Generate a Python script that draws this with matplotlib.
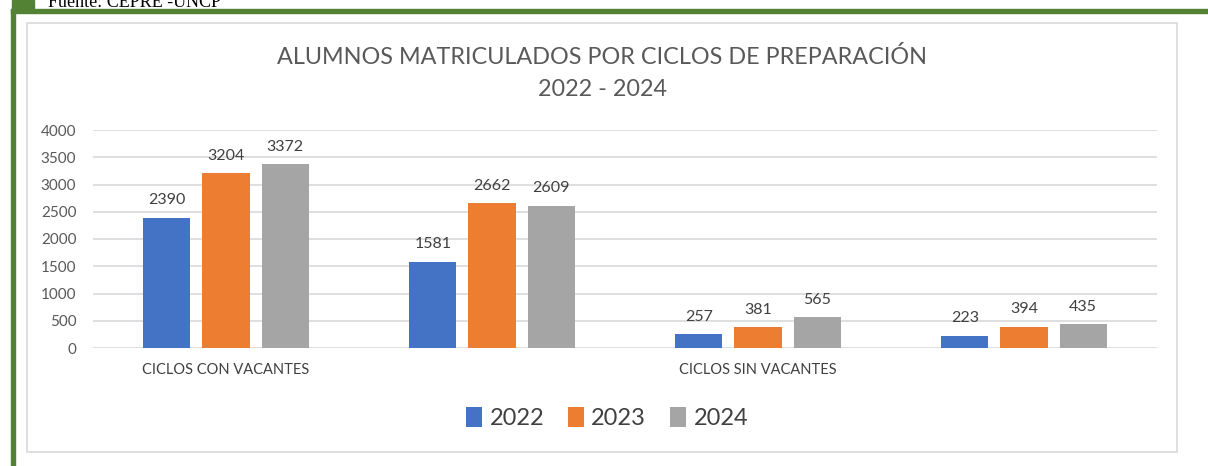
import matplotlib
matplotlib.use("Agg")
import matplotlib.pyplot as plt
from matplotlib.patches import Rectangle
import numpy as np

plt.rcParams['font.family'] = ['Lato', 'DejaVu Sans']

# Data
categories = ["CICLOS CON VACANTES", "", "CICLOS SIN VACANTES", ""]
series_names = ["2022", "2023", "2024"]
values_2022 = [2390, 1581, 257, 223]
values_2023 = [3204, 2662, 381, 394]
values_2024 = [3372, 2609, 565, 435]
yticks = [0, 500, 1000, 1500, 2000, 2500, 3000, 3500, 4000]
title_lines = ["ALUMNOS MATRICULADOS POR CICLOS DE PREPARACIÓN", "2022 - 2024"]
source_text = "Fuente: CEPRE -UNCP"

colors = ["#4472C4", "#ED7D31", "#A5A5A5"]
W, H = 1208, 466
fig = plt.figure(figsize=(W / 100, H / 100), dpi=100)
fig.patch.set_facecolor("white")

def px(x, y, w, h):
    # convert top-left pixel box to figure coords
    return (x / W, 1 - (y + h) / H, w / W, h / H)

def add_rect(x, y, w, h, **kw):
    b = px(x, y, w, h)
    fig.patches.append(Rectangle(b[:2], b[2], b[3], transform=fig.transFigure, zorder=-5, **kw))

green = "#548235"
add_rect(11, 9, W - 11, 4, color=green)
add_rect(11, 9, 4, H - 9, color=green)
add_rect(12, 0, 22, 10, color=green)
add_rect(27, 23, 1150, 429, facecolor="white", edgecolor="#D9D9D9", linewidth=1.2)

fig.text(48 / W, 1 - 7 / H, source_text, fontsize=13, family="Liberation Serif",
         color="black", va="baseline", ha="left")

# axes
ax = fig.add_axes([93 / W, 118 / H, (1157 - 93) / W, (348 - 130) / H])
ax.set_zorder(2)
ax.set_facecolor("none")
x = np.arange(len(categories))
bw = 0.177
step = 0.222
for i, (vals, c) in enumerate(zip([values_2022, values_2023, values_2024], colors)):
    ax.bar(x + (i - 1) * step, vals, width=bw, color=c, label=series_names[i], zorder=3)
    for xb, v in zip(x + (i - 1) * step, vals):
        ax.text(xb, v + 190, str(v), ha="center", va="bottom", fontsize=11.5, color="#404040")

ax.set_xlim(-0.5, len(categories) - 0.5)
ax.set_ylim(0, 4000)
ax.set_yticks(yticks)
ax.set_yticklabels([str(t) for t in yticks], fontsize=11, color="#595959")
ax.set_xticks(x)
ax.set_xticklabels(categories, fontsize=10.5, color="#404040")
ax.tick_params(axis="both", length=0)
ax.tick_params(axis="x", pad=11)
ax.tick_params(axis="y", pad=12)
ax.grid(axis="y", color="#D9D9D9", linewidth=1.2, zorder=0)
for s in ax.spines.values():
    s.set_visible(False)

fig.text(602 / W, 1 - 57 / H, title_lines[0], ha="center", va="center", fontsize=16.8, color="#595959")
fig.text(602 / W, 1 - 90 / H, title_lines[1], ha="center", va="center", fontsize=16.8, color="#595959")

leg = fig.legend(loc="center", bbox_to_anchor=(607 / W, 1 - 418 / H), ncol=3, frameon=False,
                 fontsize=17, handlelength=0.7, handleheight=0.9, handletextpad=0.3, columnspacing=1.0)
for t in leg.get_texts():
    t.set_color("#404040")

fig.savefig("out.png", dpi=100, facecolor="white")
